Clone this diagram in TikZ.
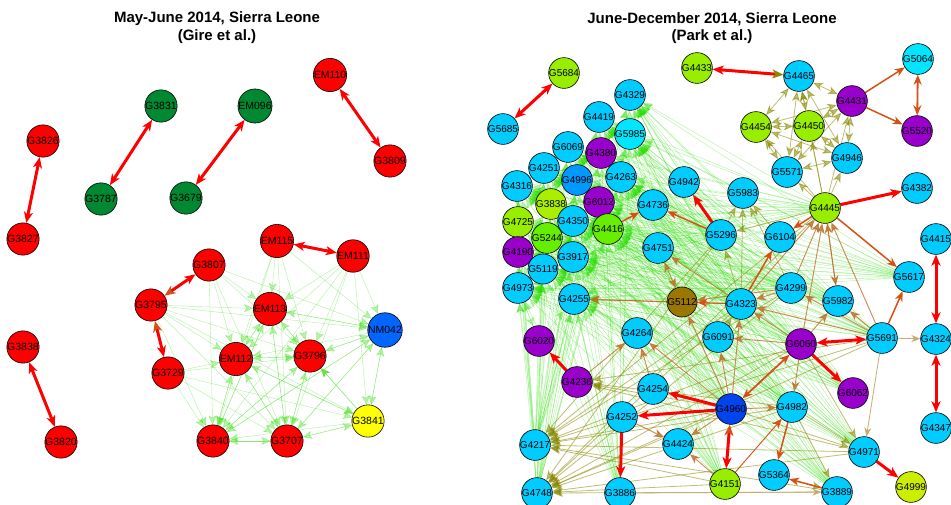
\documentclass[tikz,border=0pt]{standalone}
\usepackage{fontspec}
\setmainfont{Liberation Sans}
\usetikzlibrary{arrows.meta,backgrounds}
\definecolor{nred}{RGB}{255,0,0}
\definecolor{ngrn}{RGB}{0,136,51}
\definecolor{nblu}{RGB}{0,102,255}
\definecolor{nyel}{RGB}{255,255,0}
\definecolor{ncy}{RGB}{0,204,255}
\definecolor{ncyb}{RGB}{0,230,255}
\definecolor{npu}{RGB}{153,0,204}
\definecolor{nyg}{RGB}{153,238,0}
\definecolor{nygb}{RGB}{204,238,0}
\definecolor{nygc}{RGB}{170,238,0}
\definecolor{ngr}{RGB}{102,238,0}
\definecolor{nbl}{RGB}{0,153,255}
\definecolor{nbd}{RGB}{0,68,238}
\definecolor{nol}{RGB}{153,119,0}
\definecolor{ered}{RGB}{255,0,0}
\definecolor{eor}{RGB}{214,80,20}
\definecolor{ebn}{RGB}{190,110,40}
\definecolor{etn}{RGB}{200,170,110}
\definecolor{eol}{RGB}{136,136,0}
\definecolor{elg}{RGB}{40,220,0}

\begin{document}
\begin{tikzpicture}[x=1pt,y=-1pt,
  vtx/.style={circle,draw=black,line width=0.6pt,inner sep=0pt,minimum size=29pt,font=\fontsize{10.5}{11}\selectfont},
  svtx/.style={vtx,minimum size=27pt,font=\fontsize{10}{11}\selectfont},
  ttl/.style={font=\bfseries\fontsize{15}{17}\selectfont},
  rd/.style={color=ered,line width=3pt,-{Stealth[length=11pt,width=9pt,inset=3pt]}},
  rdd/.style={color=ered,line width=3pt,{Stealth[length=11pt,width=9pt,inset=3pt]}-{Stealth[length=11pt,width=9pt,inset=3pt]}},
  rdo/.style={color=ered,line width=3pt,{Stealth[length=11pt,width=9pt,inset=3pt,color=eor]}-{Stealth[length=11pt,width=9pt,inset=3pt]}},
  rdl/.style={color=ered,line width=3pt,{Stealth[length=11pt,width=9pt,inset=3pt,color=eol]}-{Stealth[length=11pt,width=9pt,inset=3pt]}},
  orarr/.style={color=eor,line width=1.5pt,-{Stealth[length=10pt,width=8pt,inset=3pt]}},
  ordd/.style={color=eor,line width=1.8pt,{Stealth[length=10pt,width=8pt,inset=3pt]}-{Stealth[length=10pt,width=8pt,inset=3pt]}},
  bnarr/.style={color=ebn,line width=0.9pt,opacity=0.8,-{Stealth[length=10pt,width=8pt,inset=3pt]}},
  bndd/.style={color=ebn,line width=0.9pt,opacity=0.8,{Stealth[length=10pt,width=8pt,inset=3pt]}-{Stealth[length=10pt,width=8pt,inset=3pt]}},
  tnarr/.style={color=etn,line width=0.8pt,-{Stealth[length=9pt,width=7pt,inset=3pt]}},
  olarr/.style={color=eol,line width=0.8pt,opacity=0.55,-{Stealth[length=10pt,width=8pt,inset=3pt]}},
  oldd/.style={color=eol,line width=0.8pt,opacity=0.55,{Stealth[length=10pt,width=8pt,inset=3pt]}-{Stealth[length=10pt,width=8pt,inset=3pt]}},
  lgarr/.style={color=elg,line width=0.45pt,opacity=0.35,-{Stealth[length=9pt,width=8pt,inset=2pt]}}]
\useasboundingbox (0,0) rectangle (951,504);

% titles
\node[ttl] (t1) at (217,19) {May-June 2014, Sierra Leone};
\node[ttl] (t1b) at (217,37) {(Gire et al.)};
\node[ttl] (t2) at (712,19) {June-December 2014, Sierra Leone};
\node[ttl] (t2b) at (712,37) {(Park et al.)};

% left panel
\node[vtx,fill=nred] (EM110) at (330,75) {EM110};
\node[vtx,fill=nred] (G3809) at (390,161) {G3809};
\node[vtx,fill=ngrn] (G3831) at (161,106) {G3831};
\node[vtx,fill=ngrn] (EM096) at (255,106) {EM096};
\node[vtx,fill=ngrn] (G3787) at (101,199) {G3787};
\node[vtx,fill=ngrn] (G3679) at (186,198) {G3679};
\node[vtx,fill=nred] (G3826) at (43,141) {G3826};
\node[vtx,fill=nred] (G3827) at (23,239) {G3827};
\node[vtx,fill=nred] (EM115) at (277,241) {EM115};
\node[vtx,fill=nred] (EM111) at (353,256) {EM111};
\node[vtx,fill=nred] (G3807) at (209,265) {G3807};
\node[vtx,fill=nred] (G3795) at (151,305) {G3795};
\node[vtx,fill=nred] (EM113) at (270,309) {EM113};
\node[vtx,fill=nblu] (NM042) at (385,330) {NM042};
\node[vtx,fill=nred] (G3838) at (23,347) {G3838};
\node[vtx,fill=nred] (EM112) at (236,359) {EM112};
\node[vtx,fill=nred] (G3796) at (310,356) {G3796};
\node[vtx,fill=nred] (G3729) at (168,373) {G3729};
\node[vtx,fill=nyel] (G3841) at (368,421) {G3841};
\node[vtx,fill=nred] (G3820) at (61,442) {G3820};
\node[vtx,fill=nred] (G3840) at (213,441) {G3840};
\node[vtx,fill=nred] (G3707) at (287,441) {G3707};

% right panel
\node[svtx,fill=nyg] (G5684) at (564,73) {G5684};
\node[svtx,fill=ncy] (G5685) at (503,129) {G5685};
\node[svtx,fill=nyg] (G4433) at (697,68) {G4433};
\node[svtx,fill=ncy] (G4329) at (630,95) {G4329};
\node[svtx,fill=ncy] (G4419) at (599,117) {G4419};
\node[svtx,fill=ncyb] (G5985) at (630,134) {G5985};
\node[svtx,fill=ncy] (G6069) at (568,147) {G6069};
\node[svtx,fill=npu] (G4380) at (601,153) {G4380};
\node[svtx,fill=ncy] (G4251) at (544,168) {G4251};
\node[svtx,fill=nbl] (G4996) at (577,180) {G4996};
\node[svtx,fill=ncy] (G4263) at (621,177) {G4263};
\node[svtx,fill=ncy] (G4316) at (517,186) {G4316};
\node[svtx,fill=ncy] (G4942) at (684,182) {G4942};
\node[svtx,fill=ncy] (G4465) at (799,76) {G4465};
\node[svtx,fill=ncyb] (G5064) at (918,59) {G5064};
\node[svtx,fill=npu] (G4431) at (852,101) {G4431};
\node[svtx,fill=nyg] (G4454) at (756,127) {G4454};
\node[svtx,fill=nyg] (G4450) at (809,126) {G4450};
\node[svtx,fill=npu] (G5520) at (917,131) {G5520};
\node[svtx,fill=ncy] (G4946) at (847,158) {G4946};
\node[svtx,fill=ncy] (G5571) at (787,172) {G5571};
\node[svtx,fill=ncy] (G5983) at (743,193) {G5983};
\node[svtx,fill=ncy] (G4382) at (917,188) {G4382};
\node[svtx,fill=nygc] (G3838b) at (551,204) {G3838};
\node[svtx,fill=npu] (G6012) at (599,202) {G6012};
\node[svtx,fill=ncy] (G4736) at (653,205) {G4736};
\node[svtx,fill=nyg] (G4725) at (518,222) {G4725};
\node[svtx,fill=ncy] (G4350) at (573,221) {G4350};
\node[svtx,fill=ngr] (G4416) at (608,229) {G4416};
\node[svtx,fill=ngr] (G5244) at (547,238) {G5244};
\node[svtx,fill=nyg] (G4445) at (825,208) {G4445};
\node[svtx,fill=ncy] (G5296) at (721,235) {G5296};
\node[svtx,fill=ncy] (G6104) at (780,237) {G6104};
\node[svtx,fill=ncy] (G4415) at (936,239) {G4415};
\node[svtx,fill=npu] (G4190) at (518,252) {G4190};
\node[svtx,fill=ncy] (G4751) at (658,248) {G4751};
\node[svtx,fill=ncy] (G3917) at (573,257) {G3917};
\node[svtx,fill=ncy] (G5119) at (543,269) {G5119};
\node[svtx,fill=ncy] (G4973) at (518,288) {G4973};
\node[svtx,fill=ncy] (G5617) at (909,277) {G5617};
\node[svtx,fill=ncy] (G4299) at (791,288) {G4299};
\node[svtx,fill=ncy] (G4255) at (574,299) {G4255};
\node[svtx,fill=nol] (G5112) at (682,302) {G5112};
\node[svtx,fill=ncy] (G4323) at (741,304) {G4323};
\node[svtx,fill=ncy] (G5982) at (838,301) {G5982};
\node[svtx,fill=ncy] (G4264) at (637,333) {G4264};
\node[svtx,fill=ncy] (G6091) at (718,337) {G6091};
\node[svtx,fill=npu] (G6060) at (801,344) {G6060};
\node[svtx,fill=ncy] (G5691) at (882,338) {G5691};
\node[svtx,fill=ncy] (G4324) at (936,339) {G4324};
\node[svtx,fill=npu] (G6020) at (539,341) {G6020};
\node[svtx,fill=npu] (G4236) at (577,382) {G4236};
\node[svtx,fill=ncy] (G4254) at (653,389) {G4254};
\node[svtx,fill=npu] (G6062) at (853,393) {G6062};
\node[svtx,fill=nbd] (G4960) at (731,409) {G4960};
\node[svtx,fill=ncy] (G4982) at (792,407) {G4982};
\node[svtx,fill=ncy] (G4252) at (622,417) {G4252};
\node[svtx,fill=ncy] (G4347) at (936,428) {G4347};
\node[svtx,fill=ncy] (G4217) at (535,445) {G4217};
\node[svtx,fill=ncy] (G4424) at (678,444) {G4424};
\node[svtx,fill=ncy] (G4971) at (864,452) {G4971};
\node[svtx,fill=ncy] (G5364) at (774,475) {G5364};
\node[svtx,fill=nyg] (G4151) at (725,484) {G4151};
\node[svtx,fill=nygb] (G4999) at (911,487) {G4999};
\node[svtx,fill=ncy] (G4748) at (537,493) {G4748};
\node[svtx,fill=ncy] (G3886) at (620,493) {G3886};
\node[svtx,fill=ncy] (G3889) at (837,492) {G3889};

\begin{scope}[on background layer]
% left panel, light green
\path[lgarr] (G3795) edge (EM113) edge (G3796) edge (NM042) edge (EM112) edge (G3840) edge (G3707) edge (G3841);
\path[lgarr] (G3807) edge (EM113) edge (EM112) edge (G3796) edge (NM042) edge (G3840) edge (G3707);
\path[lgarr] (G3729) edge (EM112) edge (G3796) edge (G3840) edge (G3841) edge (G3707);
\path[lgarr] (EM115) edge (EM113) edge (EM112) edge (G3796) edge (G3840) edge (G3707) edge (NM042);
\path[lgarr] (EM111) edge (EM113) edge (EM112) edge (G3796) edge (NM042) edge (G3841) edge (G3840) edge (G3707);
\path[lgarr] (EM113) edge (G3840) edge (G3707) edge (NM042) edge (G3796) edge (EM112);
\path[lgarr] (EM112) edge (EM113) edge (G3796) edge (G3840) edge (G3707) edge (G3841);
\path[lgarr] (G3796) edge (EM112) edge (EM113) edge (G3840) edge (G3707) edge (NM042);
\path[lgarr] (NM042) edge (EM113) edge (EM112) edge (G3796) edge (G3840) edge (G3707) edge (G3841);
\path[lgarr] (G3841) edge (NM042) edge (G3707) edge (G3840) edge (EM112);
\path[lgarr] (G3840) edge (G3707) edge (EM112) edge (G3796) edge (EM113) edge (NM042);
\path[lgarr] (G3707) edge (G3840) edge (EM112) edge (EM113) edge (G3796) edge (G3841) edge (NM042);
\draw[lgarr,opacity=0.7] (G3841) -- (G3796);

% left panel, red
\draw[rdd] (EM110) -- (G3809);
\draw[rdd] (G3831) -- (G3787);
\draw[rdd] (EM096) -- (G3679);
\draw[rdd] (G3826) -- (G3827);
\draw[rdd] (EM115) -- (EM111);
\draw[rdd] (G3838) -- (G3820);
\draw[rdo] (G3795) -- (G3807);
\draw[rdo] (G3795) -- (G3729);

% right panel, light green mesh
\foreach \s in {G4445,G5617,G5691,G6060,G6062,G4982,G4971,G3889,G5296,G4323,G4299,G5982,G4960,G4151,G4748,G4217,G3886}
  \foreach \t in {G4329,G5985,G4380,G4419,G4263,G6012,G4416,G4350,G3917,G5244,G4255,G5119,G4973,G4190,G4725,G3838b,G4996,G6069,G4251,G4316}
    \draw[lgarr] (\s) -- (\t);
\path[lgarr] (G4316) edge (G4725) edge (G4251) edge (G4996);
\path[lgarr] (G4973) edge (G4190) edge (G5119) edge (G6020);
\path[lgarr] (G6020) edge (G4973) edge (G5119) edge (G4255);

% right panel, olive
\path[oldd] (G4465) edge (G4454) edge (G4450) edge (G4431) edge (G4946) edge (G5571);
\path[oldd] (G4454) edge (G4450) edge (G4431) edge (G4946) edge (G5571);
\path[oldd] (G4450) edge (G4431) edge (G5571) edge (G4946);
\path[oldd] (G4431) edge (G4946) edge (G5571);
\path[oldd] (G4946) edge (G5571);
\path[olarr] (G4445) edge (G4465) edge (G4454) edge (G4450) edge (G4431) edge (G4946) edge (G5571);
\foreach \s in {G5296,G4445,G4323,G5691,G4960,G4982,G4971,G4151,G3889,G4299,G6060}
  \path[olarr] (\s) edge (G4217) edge (G4748);
\path[olarr] (G4960) edge (G4236);
\path[olarr] (G4982) edge (G4236);
\path[olarr] (G5691) edge (G4236);
\path[olarr] (G4971) edge (G4236);
\draw[olarr] (G5364) -- (G3889);
\draw[olarr] (G4982) -- (G3889);
\draw[olarr] (G6060) -- (G4971);
\draw[olarr] (G4960) -- (G4971);
\draw[olarr] (G4982) -- (G4971);
\draw[olarr] (G4323) -- (G5296);
\draw[olarr] (G4445) -- (G5296);
\draw[olarr] (G5296) -- (G5983);
\draw[olarr] (G4323) -- (G5983);
\draw[olarr] (G6104) -- (G5983);
\draw[olarr] (G4299) -- (G5983);
\draw[olarr] (G6091) -- (G4323);

% right panel, brown and tan
\draw[tnarr] (G5691) -- (G4324);
\draw[tnarr] (G5691) -- (G4971);
\draw[tnarr] (G3886) -- (G3889);
\draw[bnarr] (G6060) -- (G4982);
\draw[bnarr] (G4960) -- (G4982);
\draw[bnarr] (G4151) -- (G4424);
\draw[bnarr] (G4960) -- (G4424);
\draw[bnarr] (G4252) -- (G4424);
\draw[bnarr] (G4254) -- (G4264);
\draw[bnarr] (G4236) -- (G4264);
\draw[bnarr] (G4960) -- (G4264);
\draw[bnarr] (G4960) -- (G6091);
\draw[bnarr] (G4960) -- (G4323);
\draw[bnarr] (G4960) -- (G5112);
\draw[bndd] (G4751) -- (G5112);
\draw[bnarr] (G4323) -- (G4751);
\draw[bnarr] (G4299) -- (G4323);
\draw[bnarr] (G5691) -- (G4299);
\draw[bnarr] (G5691) -- (G5982);
\draw[bnarr] (G6060) -- (G5982);
\draw[bnarr] (G5982) -- (G4445);
\draw[bnarr] (G4299) -- (G4445);
\draw[bnarr] (G6060) -- (G4445);
\draw[bnarr] (G5691) -- (G4445);
\draw[bnarr] (G4323) -- (G4445);
\draw[bnarr] (G4445) -- (G5982);
\draw[bnarr] (G5112) -- (G4255);
\draw[bnarr] (G4323) -- (G4255);
\draw[bnarr] (G5691) -- (G4323);
\draw[bnarr] (G6060) -- (G6091);
\draw[bnarr] (G6060) -- (G4323);
\draw[bnarr] (G4299) -- (G5112);

% right panel, orange
\draw[orarr] (G4431) -- (G5064);
\draw[orarr] (G4431) -- (G5520);
\draw[ordd] (G5064) -- (G5520);
\draw[orarr] (G4416) -- (G4736);
\draw[orarr] (G5296) -- (G4736);
\draw[orarr] (G4445) -- (G6104);
\draw[orarr] (G4445) -- (G5617);
\draw[orarr] (G5691) -- (G5617);
\draw[orarr] (G4323) -- (G6104);
\draw[ordd] (G4960) -- (G6060);
\draw[orarr] (G4982) -- (G5364);
\draw[orarr] (G3889) -- (G5364);
\draw[orarr,line width=0.9pt] (G4151) -- (G4982);
\draw[orarr,line width=0.9pt] (G4323) -- (G5112);

% right panel, red
\draw[rdl] (G4465) -- (G4433);
\draw[rdd] (G5684) -- (G5685);
\draw[rd] (G5296) -- (G4942);
\draw[rd] (G4445) -- (G4382);
\draw[rdd] (G4415) -- (G4324);
\draw[rdd] (G4324) -- (G4347);
\draw[rdd] (G6060) -- (G5691);
\draw[rd] (G6060) -- (G6062);
\draw[rd] (G4960) -- (G4254);
\draw[rd] (G4960) -- (G4252);
\draw[rd] (G4252) -- (G3886);
\draw[rd] (G4236) -- (G6020);
\draw[rdo] (G4960) -- (G4151);
\draw[rd] (G4971) -- (G4999);
\end{scope}
\end{tikzpicture}
\end{document}
